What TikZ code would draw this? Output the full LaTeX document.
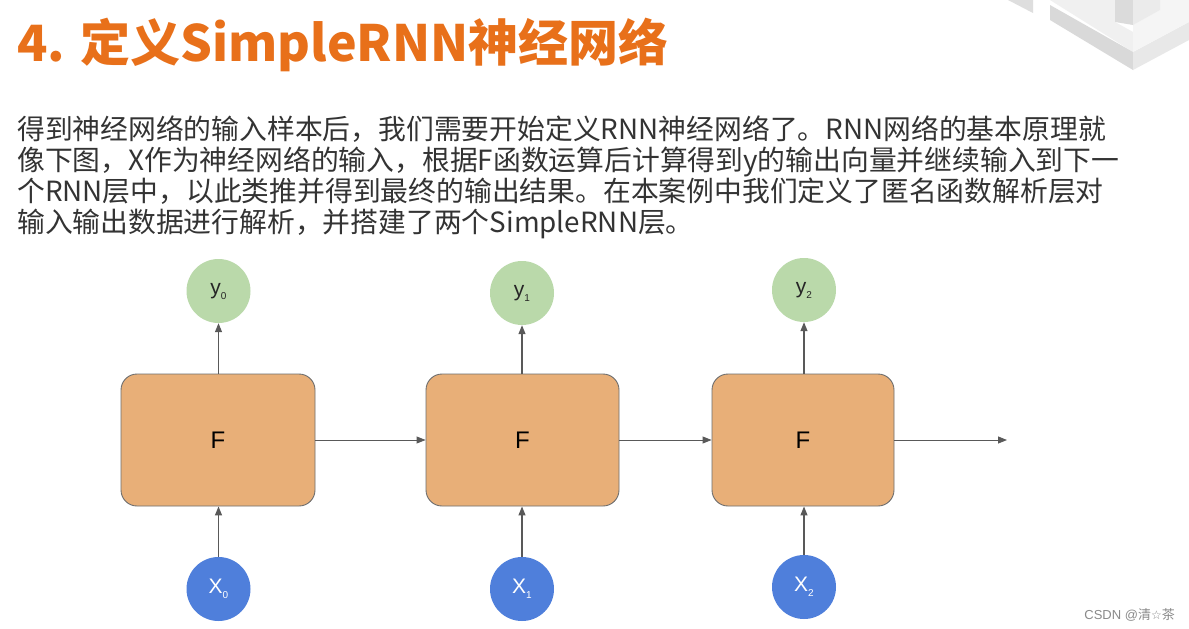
\documentclass[tikz,border=0pt]{standalone}
\usepackage{fontspec}
\setmainfont{Noto Sans CJK SC}
\newfontfamily\cjk{Noto Sans CJK SC}
\newfontfamily\lab{Liberation Sans}
\newfontfamily\sym{DejaVu Sans}
\usetikzlibrary{arrows.meta}
\definecolor{titleorange}{HTML}{E8701A}
\definecolor{bodytext}{HTML}{333333}
\definecolor{boxfill}{HTML}{E8AF78}
\definecolor{boxline}{HTML}{6E6E6E}
\definecolor{ygreen}{HTML}{BAD9AA}
\definecolor{xblue}{HTML}{4F7FDB}
\definecolor{arrgray}{HTML}{595959}
\definecolor{wmgray}{HTML}{8A8A8A}
\begin{document}
\begin{tikzpicture}[x=1pt,y=-1pt,
  fbox/.style={draw=boxline, fill=boxfill, rounded corners=16pt, minimum height=132pt, line width=0.9pt, inner sep=0pt, font=\lab\fontsize{24}{24}\selectfont},
  ycirc/.style={circle, fill=ygreen, minimum size=64pt, inner sep=0pt, font=\lab\fontsize{21}{21}\selectfont, text=black!85},
  xcirc/.style={circle, fill=xblue, minimum size=64pt, inner sep=0pt, font=\lab\fontsize{21}{21}\selectfont, text=white},
  arr/.style={draw=arrgray, line width=1.2pt, -{Triangle[length=9pt,width=7pt]}},
  bodyline/.style={anchor=base west, inner sep=0pt, text=bodytext, font=\cjk\fontsize{27.8}{27.8}\selectfont}
]
\useasboundingbox (0,0) rectangle (1189,629);
\fill[white] (0,0) rectangle (1189,629);
% decoration top right
\fill[black!13] (1008,0) -- (1033,0) -- (1033,13) -- cycle;
\fill[black!6] (1050,0) -- (1115,0) -- (1115,22) -- (1133,32) -- (1133,52) -- cycle;
\fill[black!15] (1050,5) -- (1050,20) -- (1133,70) -- (1133,52) -- cycle;
\fill[black!9] (1133,52) -- (1133,70) -- (1189,40) -- (1189,22) -- cycle;
\fill[black!4] (1133,52) -- (1189,22) -- (1189,0) -- (1160,0) -- (1160,10) -- (1133,25) -- cycle;
\fill[black!14] (1115,0) -- (1133,0) -- (1133,25) -- (1115,22) -- cycle;
\fill[black!8] (1133,0) -- (1160,0) -- (1160,10) -- (1133,25) -- cycle;
% title
\node[anchor=base west, inner sep=0pt, text=titleorange, font=\cjk\bfseries\fontsize{50}{50}\selectfont] (title) at (17,61) {4. 定义SimpleRNN神经网络};
% body
\node[bodyline] (l1) at (17,139) {得到神经网络的输入样本后，我们需要开始定义RNN神经网络了。RNN网络的基本原理就};
\node[bodyline] (l2) at (17,170) {像下图，X作为神经网络的输入，根据F函数运算后计算得到y的输出向量并继续输入到下一};
\node[bodyline] (l3) at (17,201) {个RNN层中，以此类推并得到最终的输出结果。在本案例中我们定义了匿名函数解析层对};
\node[bodyline] (l4) at (17,232) {输入输出数据进行解析，并搭建了两个SimpleRNN层。};
% boxes
\node[fbox, minimum width=194pt] (f0) at (218,440) {F};
\node[fbox, minimum width=193pt] (f1) at (522.5,440) {F};
\node[fbox, minimum width=182pt] (f2) at (803,440) {F};
% outputs
\node[ycirc] (y0) at (218.5,291) {y\raisebox{-5pt}{\fontsize{10}{10}\selectfont 0}};
\node[ycirc] (y1) at (522,293) {y\raisebox{-5pt}{\fontsize{10}{10}\selectfont 1}};
\node[ycirc] (y2) at (804,290) {y\raisebox{-5pt}{\fontsize{10}{10}\selectfont 2}};
% inputs
\node[xcirc] (x0) at (218.5,589) {X\raisebox{-5pt}{\fontsize{10}{10}\selectfont 0}};
\node[xcirc] (x1) at (522,589) {X\raisebox{-5pt}{\fontsize{10}{10}\selectfont 1}};
\node[xcirc] (x2) at (804,587) {X\raisebox{-5pt}{\fontsize{10}{10}\selectfont 2}};
\coordinate (out) at (1007,440);
% connectors
\draw[arr] (x0) -- (f0.south -| x0);
\draw[arr] (x1) -- (f1.south -| x1);
\draw[arr] (x2) -- (f2.south -| x2);
\draw[arr] (f0.north -| y0) -- (y0);
\draw[arr] (f1.north -| y1) -- (y1);
\draw[arr] (f2.north -| y2) -- (y2);
\draw[arr, line width=0.9pt] (f0.east) -- (f1.west);
\draw[arr, line width=0.9pt] (f1.east) -- (f2.west);
\draw[arr, line width=0.9pt] (f2.east) -- (out);
% watermark
\node[anchor=base east, inner sep=0pt, text=wmgray, font=\lab\fontsize{13}{13}\selectfont] (wm) at (1175,619) {CSDN @{\cjk 清}{\sym\fontsize{12}{12}\selectfont ☆}{\cjk 茶}};
\end{tikzpicture}
\end{document}
